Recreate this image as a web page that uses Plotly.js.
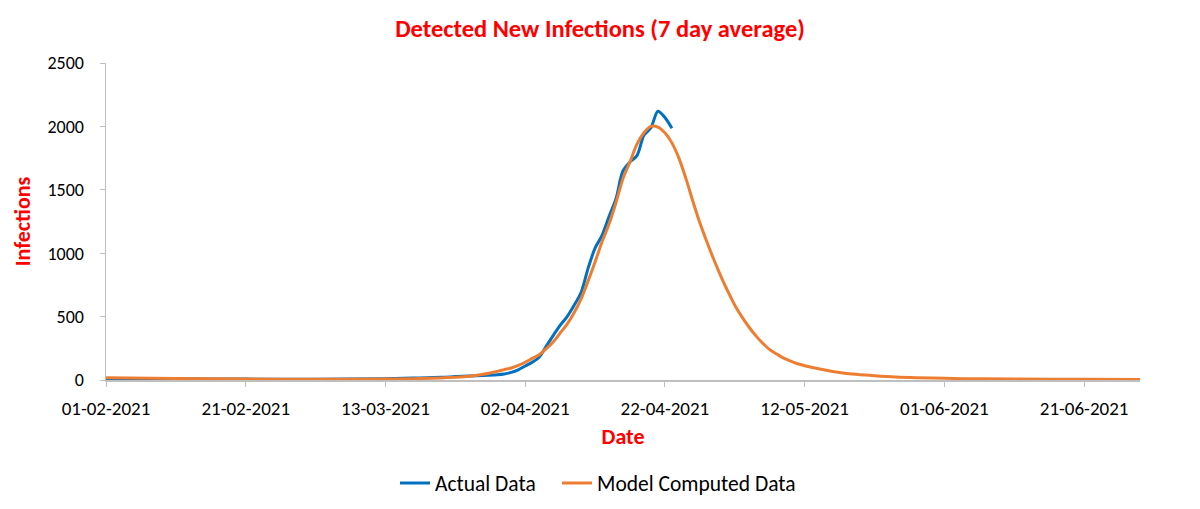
<!DOCTYPE html>
<html>
<head>
<meta charset="utf-8">
<script src="https://cdn.plot.ly/plotly-3.0.1.min.js"></script>
<style>html,body{margin:0;padding:0;background:#fff}#chart{width:1200px;height:509px}</style>
</head>
<body>
<div id="chart"></div>
<script>
// Actual data (7-day average of detected new infections)
const actualDates = [
  '2021-02-01','2021-02-11','2021-02-21','2021-03-03','2021-03-13','2021-03-17','2021-03-21',
  '2021-03-23','2021-03-25','2021-03-27','2021-03-29','2021-03-30','2021-03-31','2021-04-01',
  '2021-04-02','2021-04-03','2021-04-04','2021-04-05','2021-04-06','2021-04-07','2021-04-08',
  '2021-04-09','2021-04-10','2021-04-11','2021-04-12','2021-04-13','2021-04-14','2021-04-15',
  '2021-04-16','2021-04-17','2021-04-18','2021-04-19','2021-04-20','2021-04-21','2021-04-22','2021-04-23'
];
const actualValues = [
  12, 9, 7, 6, 10, 15, 21,
  27, 32, 36, 42, 48, 60, 80,
  110, 140, 180, 265, 350, 430, 500,
  590, 690, 880, 1040, 1140, 1290, 1430,
  1650, 1720, 1770, 1930, 1990, 2120, 2070, 1985
];

// Model computed data
const modelDates = [
  '2021-02-01','2021-02-11','2021-02-21','2021-03-03','2021-03-13','2021-03-18','2021-03-23',
  '2021-03-25','2021-03-27','2021-03-28','2021-03-29','2021-03-30','2021-03-31','2021-04-01',
  '2021-04-02','2021-04-03','2021-04-04','2021-04-05','2021-04-06','2021-04-07','2021-04-08',
  '2021-04-09','2021-04-10','2021-04-11','2021-04-12','2021-04-13','2021-04-14','2021-04-15',
  '2021-04-16','2021-04-17','2021-04-18','2021-04-19','2021-04-20','2021-04-21','2021-04-22',
  '2021-04-23','2021-04-24','2021-04-25','2021-04-26','2021-04-27','2021-04-28','2021-04-29',
  '2021-04-30','2021-05-01','2021-05-02','2021-05-03','2021-05-04','2021-05-05','2021-05-06',
  '2021-05-07','2021-05-08','2021-05-09','2021-05-10','2021-05-11','2021-05-12','2021-05-14',
  '2021-05-16','2021-05-18','2021-05-20','2021-05-22','2021-05-25','2021-05-28','2021-06-01',
  '2021-06-06','2021-06-11','2021-06-21','2021-06-29'
];
const modelValues = [
  18, 12, 8, 6, 8, 12, 22,
  30, 45, 55, 68, 82, 95, 115,
  140, 170, 200, 245, 300, 370, 440,
  530, 640, 780, 930, 1090, 1230, 1400,
  1590, 1720, 1860, 1950, 2000, 1995, 1950,
  1870, 1750, 1590, 1410, 1240, 1090, 950,
  820, 700, 590, 500, 420, 350, 290,
  240, 205, 172, 148, 128, 113, 88,
  67, 52, 42, 34, 24, 18, 13,
  9, 7, 5, 4
];

const seriesNames = ['Actual Data', 'Model Computed Data'];
const titleText = 'Detected New Infections (7 day average)';
const xTitle = 'Date';
const yTitle = 'Infections';

const FONT = 'Carlito, Calibri, Lato, sans-serif';
const RED = '#ff0000';

const traces = [
  {x: actualDates, y: actualValues, type: 'scatter', mode: 'lines', name: seriesNames[0],
   legend: 'legend',
   line: {color: '#0070C0', width: 3, shape: 'spline', smoothing: 0.9}},
  {x: modelDates, y: modelValues, type: 'scatter', mode: 'lines', name: seriesNames[1],
   legend: 'legend2',
   line: {color: '#ED7D31', width: 3, shape: 'spline', smoothing: 0.9}}
];

const legendBase = {orientation: 'h', xref: 'container', yref: 'container',
  xanchor: 'left', y: 26/509, yanchor: 'middle',
  font: {family: FONT, size: 21.5, color: '#000'}};

const layout = {
  width: 1200, height: 509,
  paper_bgcolor: '#fff', plot_bgcolor: '#fff',
  margin: {l: 106, r: 60, t: 63, b: 129, autoexpand: false},
  font: {family: FONT, color: '#000', size: 18},
  title: {text: titleText, font: {family: FONT, size: 24.5, color: RED, weight: 'bold'},
          x: 0.5, xanchor: 'center', y: 1 - 28/509, yanchor: 'middle', yref: 'container'},
  showlegend: true,
  legend: Object.assign({}, legendBase, {x: 395/1200}),
  legend2: Object.assign({}, legendBase, {x: 557/1200}),
  xaxis: {
    type: 'date', range: ['2021-02-01', '2021-06-29'], automargin: false,
    tick0: '2021-02-01', dtick: 20 * 86400000, tickformat: '%d-%m-%Y',
    showgrid: false, zeroline: false, showline: true, linecolor: '#bfbfbf', linewidth: 1.5,
    ticks: 'outside', ticklen: 5, tickcolor: '#bfbfbf', ticklabelstandoff: 6,
    tickfont: {family: FONT, size: 19, color: '#000'},
    title: {text: xTitle, font: {family: FONT, size: 22, color: RED, weight: 'bold'}, standoff: 9}
  },
  yaxis: {
    range: [0, 2500], dtick: 500, tick0: 0, automargin: false,
    showgrid: false, zeroline: false, showline: true, linecolor: '#bfbfbf', linewidth: 1.5,
    ticks: 'outside', ticklen: 5, tickcolor: '#bfbfbf', ticklabelstandoff: 12,
    tickfont: {family: FONT, size: 18, color: '#000'},
    title: {text: yTitle, font: {family: FONT, size: 22, color: RED, weight: 'bold'}, standoff: 10}
  }
};

Plotly.newPlot('chart', traces, layout, {displayModeBar: false, staticPlot: true});
</script>
</body>
</html>
